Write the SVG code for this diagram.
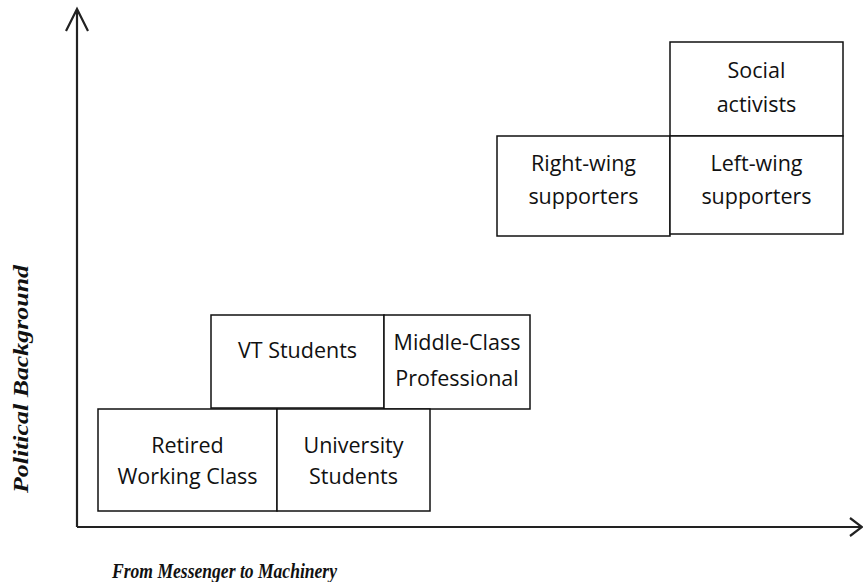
<svg xmlns="http://www.w3.org/2000/svg" width="863" height="582" viewBox="0 0 863 582">
<style>
.box{fill:#fff;stroke:#111;stroke-width:1.5}
.t{font-family:"Open Sans",sans-serif;font-size:21.5px;fill:#111;text-anchor:middle}
.ax{stroke:#222;stroke-width:2.2;fill:none}
.lbl{font-family:"Liberation Serif",serif;font-size:20px;font-weight:bold;font-style:italic;fill:#111}
</style>
<rect width="863" height="582" fill="#fff"/>
<g id="axes">
<path class="ax" d="M77,527 V9 M66,31 L77,9 L88,31"/>
<path class="ax" d="M77,527 H861 M850,518 L862,527 L850,536"/>
</g>
<g id="social"><rect class="box" x="670" y="42" width="173" height="94"/><text class="t" x="756.5" y="78">Social</text><text class="t" x="756.5" y="112">activists</text></g>
<g id="rightwing"><rect class="box" x="497" y="136" width="173" height="100"/><text class="t" x="583.5" y="171">Right-wing</text><text class="t" x="583.5" y="204">supporters</text></g>
<g id="leftwing"><rect class="box" x="670" y="136" width="173" height="98"/><text class="t" x="756.5" y="171">Left-wing</text><text class="t" x="756.5" y="204">supporters</text></g>
<g id="vt"><rect class="box" x="211" y="315" width="173" height="93"/><text class="t" x="297.5" y="358">VT Students</text></g>
<g id="middle"><rect class="box" x="384" y="315" width="146" height="94"/><text class="t" x="457" y="350">Middle-Class</text><text class="t" x="457" y="386">Professional</text></g>
<g id="retired"><rect class="box" x="98" y="409" width="179" height="102"/><text class="t" x="187.5" y="453">Retired</text><text class="t" x="187.5" y="484">Working Class</text></g>
<g id="university"><rect class="box" x="277" y="409" width="153" height="102"/><text class="t" x="353.5" y="453">University</text><text class="t" x="353.5" y="484">Students</text></g>
<g id="labels">
<text class="lbl" transform="translate(28,493) rotate(-90)" textLength="228" lengthAdjust="spacingAndGlyphs">Political Background</text>
<text class="lbl" x="112" y="578" textLength="225" lengthAdjust="spacingAndGlyphs">From Messenger to Machinery</text>
</g>
</svg>
